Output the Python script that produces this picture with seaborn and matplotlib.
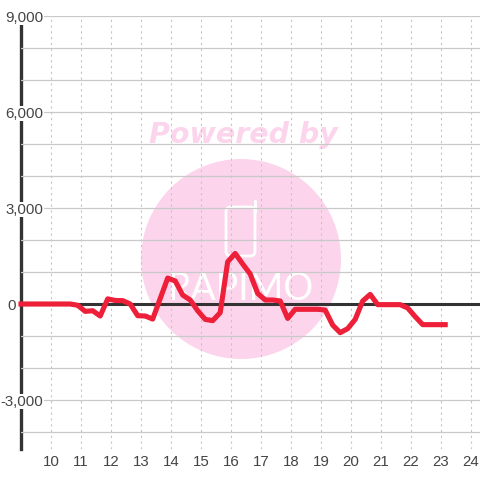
import matplotlib
matplotlib.use('Agg')
import matplotlib.pyplot as plt
from matplotlib.patches import Circle, FancyBboxPatch
import seaborn as sns
import pandas as pd

hours = [9.0, 10.64, 10.89, 11.14, 11.39, 11.64, 11.89, 12.14, 12.39, 12.64, 12.89, 13.14, 13.39,
         13.64, 13.89, 14.14, 14.39, 14.64, 14.89, 15.14, 15.39, 15.64, 15.89, 16.14, 16.39, 16.64,
         16.89, 17.14, 17.39, 17.64, 17.89, 18.14, 18.39, 18.64, 18.89, 19.14, 19.39, 19.64, 19.89,
         20.14, 20.39, 20.64, 20.89, 21.14, 21.39, 21.64, 21.89, 22.14, 22.39, 22.64, 22.89, 23.14]
values = [0, 0, -40, -230, -210, -375, 160, 110, 105, 0, -365, -375, -470,
          170, 810, 720, 280, 125, -210, -480, -520, -270, 1320, 1580, 1250, 940,
          330, 125, 125, 95, -450, -165, -165, -165, -165, -190, -660, -895, -770,
          -480, 95, 300, -20, -20, -20, -20, -125, -395, -645, -645, -645, -645]
x_ticks = [10, 11, 12, 13, 14, 15, 16, 17, 18, 19, 20, 21, 22, 23, 24]
y_major = [-3000, 0, 3000, 6000, 9000]
y_major_labels = ['-3,000', '0', '3,000', '6,000', '9,000']
y_minor = [-4000, -2000, -1000, 1000, 2000, 4000, 5000, 7000, 8000]

sns.set_style('white')
plt.rcParams['font.family'] = ['Liberation Sans', 'DejaVu Sans']

W = 480
fig = plt.figure(figsize=(4.8, 4.8), dpi=100)
ax = fig.add_axes([21 / W, 1 - 449 / W, (W - 21) / W, (449 - 16) / W])
ax.patch.set_alpha(0)

df = pd.DataFrame({'hour': hours, 'value': values})
sns.lineplot(data=df, x='hour', y='value', color='#ee1f38', lw=3.7, errorbar=None, ax=ax,
             zorder=6, clip_on=False, solid_joinstyle='round', solid_capstyle='projecting')
ax.set_xlim(9, 9 + (W - 21) / 30)
ax.set_ylim(-4531, 9000)
ax.set_xlabel('')
ax.set_ylabel('')

ax.set_xticks(x_ticks)
ax.set_yticks(y_major)
ax.set_yticklabels(y_major_labels)
ax.set_yticks(y_minor, minor=True)
ax.grid(True, which='both', axis='y', color='#c9c9c9', lw=0.9)
ax.grid(True, axis='x', color='#c4c4c4', lw=0.8, ls=(0, (2, 3.2)))
ax.tick_params(axis='both', which='both', length=0, labelsize=10.8, labelcolor='#444444')
ax.tick_params(axis='x', pad=4)
for tick, label in zip(ax.yaxis.get_major_ticks(), y_major_labels):
    tick.set_pad(3.4 if label == '0' else -16.2)
    if label != '0':
        tick.label1.set_bbox(dict(facecolor='white', edgecolor='none', pad=0.6))
# labels have to sit on top of the spine
ax.yaxis.set_zorder(3)
ax.xaxis.set_zorder(1.5)

for side in ['top', 'right', 'bottom']:
    ax.spines[side].set_visible(False)
ax.spines['left'].set_color('#333333')
ax.spines['left'].set_linewidth(2.4)
ax.axhline(0, color='#333333', lw=2.2, zorder=4)

# watermark
pink = '#fcd5ec'
fig.add_artist(Circle((241 / W, 1 - 259 / W), 100 / W, color=pink, lw=0, transform=fig.transFigure, zorder=-1))
fig.add_artist(FancyBboxPatch((226 / W, 1 - 256 / W), 29 / W, 49 / W, boxstyle='round,pad=0,rounding_size=0.01',
                              fc='none', ec='white', lw=2, transform=fig.transFigure, zorder=-1))
fig.add_artist(plt.Line2D([255 / W, 255 / W], [1 - 212 / W, 1 - 201 / W], color='white', lw=2.2,
                          solid_capstyle='round', zorder=-1))
fig.text(243 / W, 1 - 135 / W, 'Powered by', color=pink, fontsize=20.5, fontweight='bold', fontstyle='italic',
         family='DejaVu Sans', ha='center', va='center', zorder=-1)
fig.text(241 / W, 1 - 289 / W, 'RAPIMO', color='white', fontsize=27, family='Lato', fontweight='normal',
         ha='center', va='center', zorder=-1)

fig.savefig('out.png', dpi=100)
